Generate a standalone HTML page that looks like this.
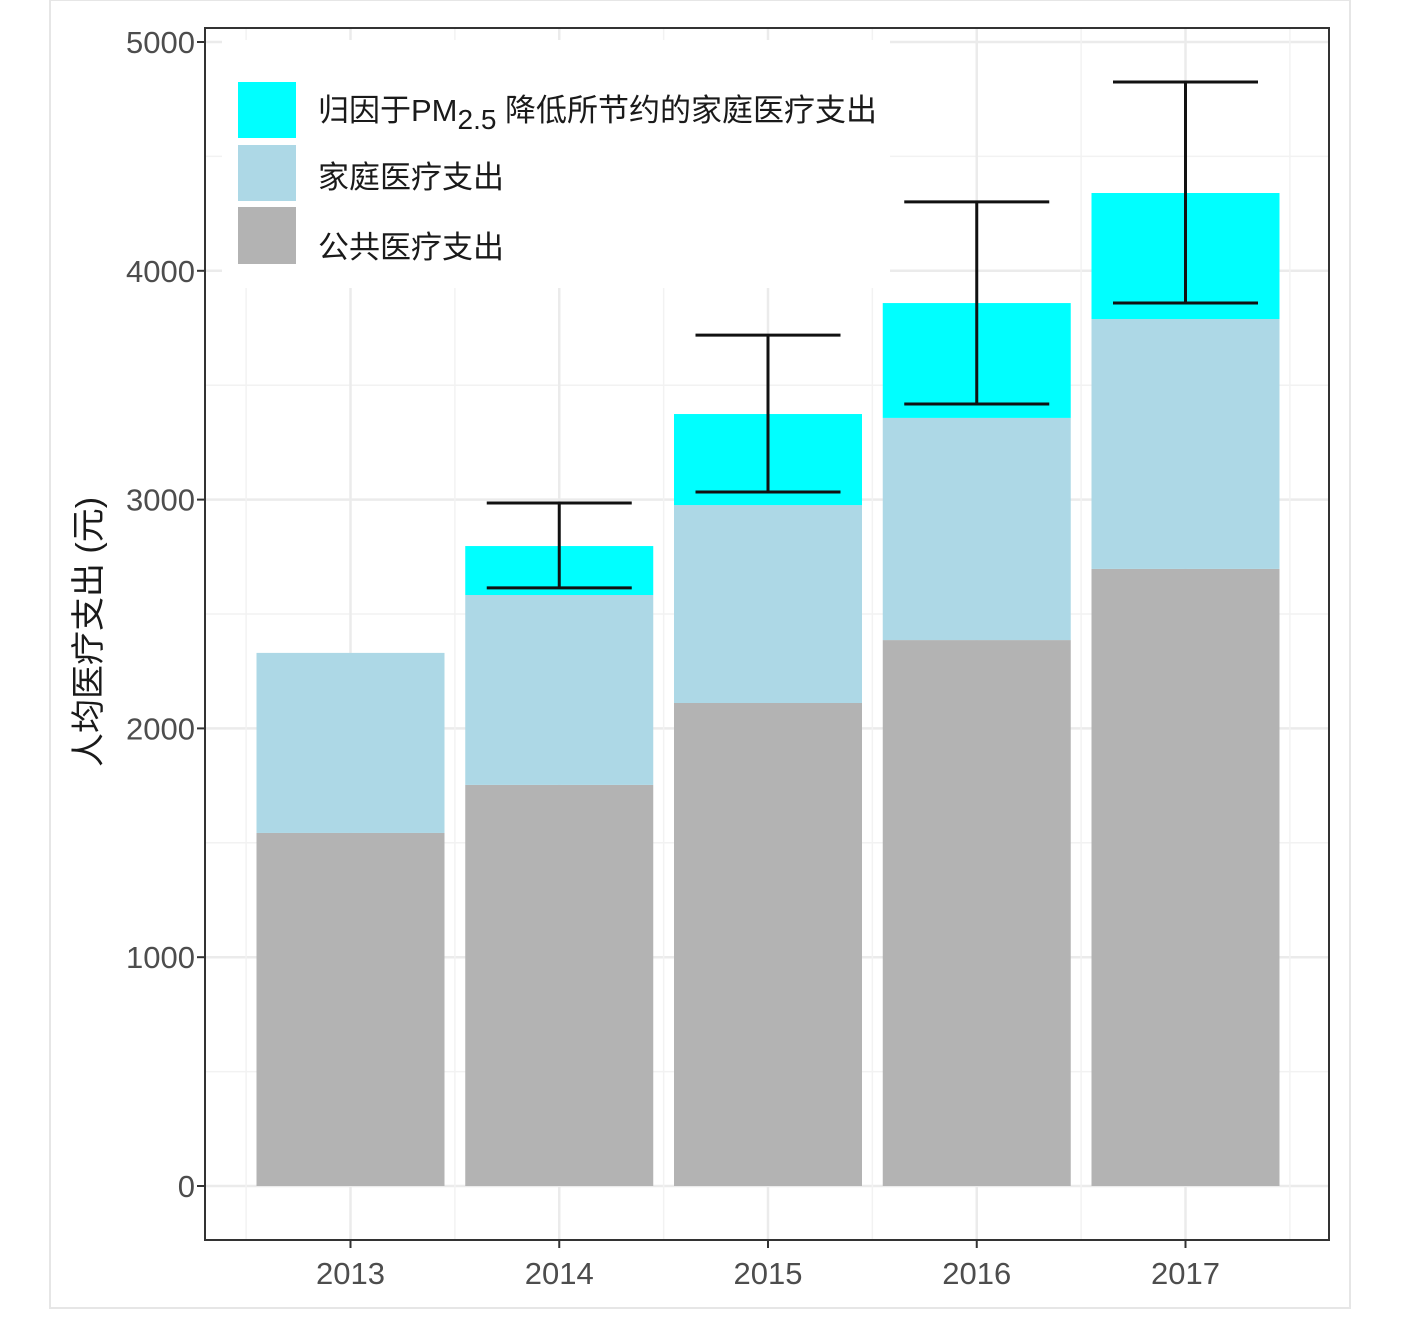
<!DOCTYPE html>
<html><head><meta charset="utf-8"><style>
body{margin:0;background:#fff}
svg{display:block;font-family:"Liberation Sans","Noto Sans CJK SC",sans-serif}
</style></head><body>
<svg id="chart" width="1408" height="1333" viewBox="0 0 1408 1333">
<rect x="50" y="0" width="1300" height="1308" fill="#fff" stroke="#e6e6e6" stroke-width="2"/>
<g id="grid"></g>
<g id="bars"></g>
<g id="errs"></g>
<g id="axes"></g>
<g id="legend">
<rect x="222" y="40" width="668" height="248" fill="#fff"/>
<rect x="238" y="82" width="58" height="56" fill="#00ffff"/>
<rect x="238" y="145" width="58" height="56" fill="#add8e6"/>
<rect x="238" y="207" width="58" height="57" fill="#b3b3b3"/>
<text x="318" y="121" font-size="31" fill="#1a1a1a">归因于PM<tspan font-size="28" dy="8">2.5</tspan><tspan dy="-8"> 降低所节约的家庭医疗支出</tspan></text>
<text x="318" y="188" font-size="31" fill="#1a1a1a">家庭医疗支出</text>
<text x="318" y="258" font-size="31" fill="#1a1a1a">公共医疗支出</text>
</g>
<text transform="translate(100,632) rotate(-90)" text-anchor="middle" font-size="34" fill="#1a1a1a">人均医疗支出 (元)</text>
</svg>
<script>
const years=["2013","2014","2015","2016","2017"];
const publicExp=[1543,1753,2111,2386,2697];
const householdExp=[787,830,865,971,1092];
const pmSavings=[0,214,398,502,551];
const errLow=[null,2614,3033,3418,3859];
const errHigh=[null,2985,3719,4301,4825];
const yTicks=[0,1000,2000,3000,4000,5000];
const NS="http://www.w3.org/2000/svg";
const L=205,R=1329,T=28,B=1240;
const y=v=>1186-v*0.2288;
const step=208.75,x0=350.5;
const x=i=>x0+i*step;
const bw=188,ew=145;
function mk(tag,a,parent){const e=document.createElementNS(NS,tag);for(const k in a)e.setAttribute(k,a[k]);document.getElementById(parent).appendChild(e);return e;}
let e=mk('rect',{x:L,y:T,width:R-L,height:B-T,fill:'#fff'},'grid');


for(let v=500;v<5000;v+=1000){e=mk('line',{x1:L,x2:R,y1:y(v),y2:y(v),stroke:'#f2f2f2','stroke-width':1.5},'grid');}
yTicks.forEach(v=>{e=mk('line',{x1:L,x2:R,y1:y(v),y2:y(v),stroke:'#ebebeb','stroke-width':2.5},'grid');});
for(let i=-0.5;i<years.length;i++){e=mk('line',{x1:x(i),x2:x(i),y1:T,y2:B,stroke:'#f2f2f2','stroke-width':1.5},'grid');}
years.forEach((yr,i)=>{e=mk('line',{x1:x(i),x2:x(i),y1:T,y2:B,stroke:'#ebebeb','stroke-width':2.5},'grid');});
years.forEach((yr,i)=>{
 const a=publicExp[i],b=a+householdExp[i],c=b+pmSavings[i];
 e=mk('rect',{x:x(i)-bw/2,y:y(a),width:bw,height:y(0)-y(a),fill:'#b3b3b3'},'bars');
 
 
 e=mk('rect',{x:x(i)-bw/2,y:y(b),width:bw,height:y(a)-y(b),fill:'#add8e6'},'bars');
 
 
 if(pmSavings[i]>0){e=mk('rect',{x:x(i)-bw/2,y:y(c),width:bw,height:y(b)-y(c),fill:'#00ffff'},'bars');
 
 }
 if(errLow[i]!=null){
  const g=mk('g',{stroke:'#111','stroke-width':3,fill:'none'},'errs');
  
  
  const p=document.createElementNS(NS,'path');
  p.setAttribute('d',`M${x(i)-ew/2},${y(errHigh[i])}H${x(i)+ew/2}M${x(i)},${y(errHigh[i])}V${y(errLow[i])}M${x(i)-ew/2},${y(errLow[i])}H${x(i)+ew/2}`);
  g.appendChild(p);
 }
});
e=mk('rect',{x:L,y:T,width:R-L,height:B-T,fill:'none',stroke:'#333','stroke-width':2},'axes');


yTicks.forEach(v=>{
 e=mk('line',{x1:L-8,x2:L,y1:y(v),y2:y(v),stroke:'#333','stroke-width':2},'axes');
 
 
 e=mk('text',{x:L-10,y:y(v)+11,'text-anchor':'end','font-size':31,fill:'#4d4d4d'},'axes');
 e.textContent=v;
 
 
});
years.forEach((yr,i)=>{
 e=mk('line',{x1:x(i),x2:x(i),y1:B,y2:B+8,stroke:'#333','stroke-width':2},'axes');
 
 
 e=mk('text',{x:x(i),y:B+44,'text-anchor':'middle','font-size':31,fill:'#4d4d4d'},'axes');
 e.textContent=yr;
 
 
});
</script>
</body></html>
